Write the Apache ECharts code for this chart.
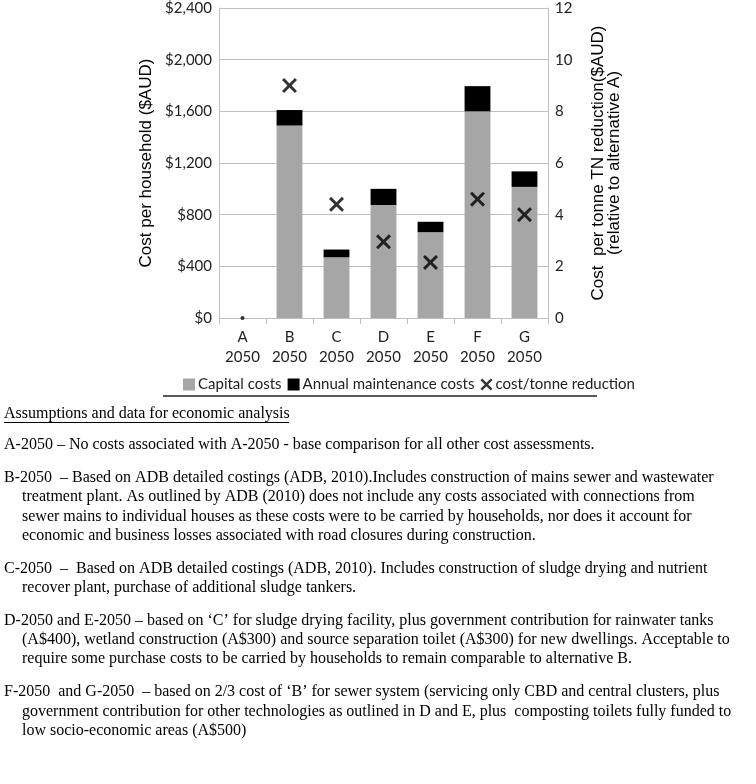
<!DOCTYPE html>
<html><head><meta charset="utf-8">
<script src="https://cdn.jsdelivr.net/npm/echarts@6/dist/echarts.min.js"></script>
<style>html,body{margin:0;padding:0;background:#fff}#c{width:756px;height:784px}</style>
</head><body><div id="c"></div>
<script>
const categories = ['A\n2050','B\n2050','C\n2050','D\n2050','E\n2050','F\n2050','G\n2050'];
const capitalCosts = [0, 1490, 470, 875, 665, 1600, 1015];
const maintenanceCosts = [0, 120, 60, 125, 80, 195, 120];
const costPerTonne = [0, 9.0, 4.4, 2.95, 2.15, 4.6, 4.0];
const leftTicks = [0, 2400, 400];
const rightTicks = [0, 12, 2];
const heading = 'Assumptions and data for economic analysis';
const notes = [
 ['A-2050 – No costs associated with A-2050 - base comparison for all other cost assessments.'],
 ['B-2050  – Based on ADB detailed costings (ADB, 2010).Includes construction of mains sewer and wastewater',
  'treatment plant. As outlined by ADB (2010) does not include any costs associated with connections from',
  'sewer mains to individual houses as these costs were to be carried by households, nor does it account for',
  'economic and business losses associated with road closures during construction.'],
 ['C-2050  –  Based on ADB detailed costings (ADB, 2010). Includes construction of sludge drying and nutrient',
  'recover plant, purchase of additional sludge tankers.'],
 ['D-2050 and E-2050 – based on ‘C’ for sludge drying facility, plus government contribution for rainwater tanks',
  '(A$400), wetland construction (A$300) and source separation toilet (A$300) for new dwellings. Acceptable to',
  'require some purchase costs to be carried by households to remain comparable to alternative B.'],
 ['F-2050  and G-2050  – based on 2/3 cost of ‘B’ for sewer system (servicing only CBD and central clusters, plus',
  'government contribution for other technologies as outlined in D and E, plus  composting toilets fully funded to',
  'low socio-economic areas (A$500)']
];

const X_PATH = 'path://M0,14L14,0L50,36L86,0L100,14L64,50L100,86L86,100L50,64L14,100L0,86L36,50Z';
const sansFont = 'Lato, "Open Sans", sans-serif';
const arial = '"Liberation Sans", Arial, sans-serif';
const serif = '"Liberation Serif", "Times New Roman", serif';

const graphics = [];
graphics.push({type:'line', shape:{x1:163,y1:396,x2:597,y2:396}, style:{stroke:'#222',lineWidth:1.3}});
graphics.push({type:'text', x:4, y:414, style:{text:heading, font:'16px '+serif, fill:'#000', textVerticalAlign:'middle'}});
graphics.push({type:'line', shape:{x1:4,y1:422.5,x2:289,y2:422.5}, style:{stroke:'#000',lineWidth:1}});
let y = 445;
notes.forEach(p => {
  p.forEach((ln, i) => {
    graphics.push({type:'text', x: i===0?4:22, y: y, style:{text:ln, font:'16px '+serif, fill:'#000', textVerticalAlign:'middle'}});
    y += 19.3;
  });
  y += 13.5;
});

const chart = echarts.init(document.getElementById('c'), null, {renderer:'canvas'});
chart.setOption({
  animation:false,
  grid:{left:219, right:208, top:8, bottom:466, containLabel:false},
  legend:{
    left:178, top:372, itemWidth:12, itemHeight:12, itemGap:6,
    textStyle:{fontFamily:sansFont, fontSize:15, color:'#222', padding:[0,0,0,-2]},
    data:[
      {name:'Capital costs', icon:'rect'},
      {name:'Annual maintenance costs', icon:'rect'},
      {name:'cost/tonne reduction', icon:X_PATH}
    ]
  },
  xAxis:{
    type:'category', data:categories,
    axisLine:{lineStyle:{color:'#bfbfbf'}},
    axisTick:{show:true, length:6, lineStyle:{color:'#bfbfbf'}, alignWithLabel:false},
    axisLabel:{fontFamily:sansFont, fontSize:15, color:'#222', lineHeight:20, margin:9}
  },
  yAxis:[{
    type:'value', min:leftTicks[0], max:leftTicks[1], interval:leftTicks[2], position:'left',
    name:'Cost per household ($AUD)', nameLocation:'middle', nameGap:64, nameMoveOverlap:false,
    nameTextStyle:{fontFamily:arial, fontSize:17, color:'#000'},
    axisLine:{show:true, lineStyle:{color:'#bfbfbf'}}, axisTick:{show:false},
    splitLine:{lineStyle:{color:'#bfbfbf'}},
    axisLabel:{fontFamily:sansFont, fontSize:15, color:'#222', margin:7,
      formatter:v=>'$'+v.toLocaleString('en-US')}
  },{
    type:'value', min:rightTicks[0], max:rightTicks[1], interval:rightTicks[2], position:'right',
    name:'Cost  per tonne TN reduction($AUD)\n(relative to alternative A)', nameLocation:'middle', nameGap:42, nameMoveOverlap:false,
    nameTextStyle:{fontFamily:arial, fontSize:17, color:'#000', lineHeight:16},
    axisLine:{show:true, lineStyle:{color:'#bfbfbf'}}, axisTick:{show:false},
    splitLine:{show:false},
    axisLabel:{fontFamily:sansFont, fontSize:15, color:'#222', margin:7}
  }],
  series:[
    {name:'Capital costs', type:'bar', stack:'c', barWidth:'55%', data:capitalCosts, itemStyle:{color:'#a6a6a6'}},
    {name:'Annual maintenance costs', type:'bar', stack:'c', data:maintenanceCosts, itemStyle:{color:'#000'}},
    {name:'cost/tonne reduction', type:'scatter', yAxisIndex:1, symbol:X_PATH, symbolSize:15,
      itemStyle:{color:'#000'}, z:5,
      data:costPerTonne.map((v,i)=> v===0 ? {value:v, symbol:'circle', symbolSize:4} : v)}
  ],
  graphic:graphics
});
</script></body></html>
